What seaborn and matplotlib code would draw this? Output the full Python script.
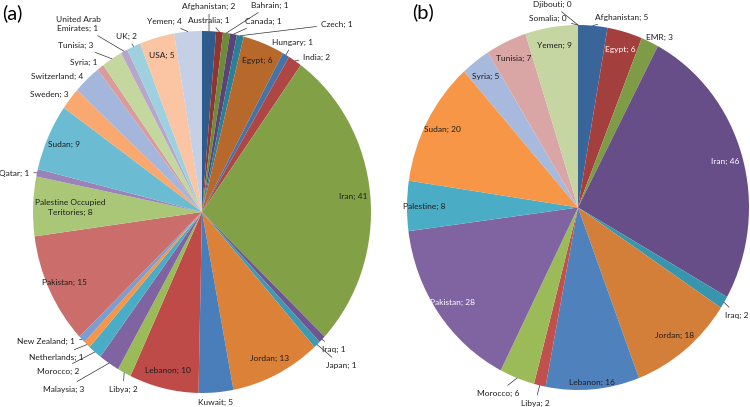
import numpy as np
import matplotlib
matplotlib.use("Agg")
import matplotlib.pyplot as plt
import seaborn as sns

# ---- data (a): publications by country ----
countries_a = ["Afghanistan", "Australia", "Bahrain", "Canada", "Czech", "Egypt",
               "Hungary", "India", "Iran", "Iraq", "Japan", "Jordan",
               "Kuwait", "Lebanon", "Libya", "Malaysia", "Morocco", "Netherlands",
               "New Zealand", "Pakistan", "Palestine Occupied\nTeritories", "Qatar", "Sudan", "Sweden",
               "Switzerland", "Syria", "Tunisia", "United Arab\nEmirates", "UK", "USA",
               "Yemen"]
values_a = [2, 1, 1, 1, 1, 6,
            1, 2, 41, 1, 1, 13,
            5, 10, 2, 3, 2, 1,
            1, 15, 8, 1, 9, 3,
            4, 1, 3, 1, 2, 5,
            4]
colors_a = ["#2F5A8C", "#8E3532", "#6E8B39", "#5A4476", "#2D7F95", "#B7692C",
            "#4573A8", "#AE4744", "#82A147", "#6F5690", "#3E9AB3", "#DB8138",
            "#4A7EBB", "#BE4B48", "#9BBB59", "#8064A2", "#4BACC6", "#F79646",
            "#7B9DD0", "#CB6D6B", "#AAC777", "#9983B7", "#6BBBD2", "#F9A86F",
            "#A4B6DC", "#DA9C9A", "#C4D79E", "#B5A6CA", "#9ED0DF", "#FBC4A2",
            "#C5D0E6"]

# ---- data (b): by country, EMR only ----
countries_b = ["Afghanistan", "Egypt", "EMR", "Iran", "Iraq", "Jordan",
               "Lebanon", "Libya", "Morocco", "Pakistan", "Palestine", "Sudan",
               "Syria", "Tunisia", "Yemen", "Somalia", "Djibouti"]
values_b = [5, 6, 3, 46, 2, 18,
            16, 2, 6, 28, 8, 20,
            5, 7, 9, 0, 0]
colors_b = ["#3A659A", "#A33F3C", "#7E9C45", "#684E89", "#3795AE", "#D37E39",
            "#4F81BD", "#C0504D", "#9BBB59", "#8064A2", "#4BACC6", "#F79646",
            "#A7B9DC", "#D9A6A5", "#C5D6A2", "#B5A6CA", "#9ED0DF"]

# ---- layout (pixels in the 750x407 canvas) ----
W, H = 750, 407
box_a = (33, 31, 371, 393)
box_b = (407, 25, 749, 390)

# labels drawn outside the pie, text centre in pixels
outside_a = {
    "Afghanistan": (209, 6), "Australia": (209, 20), "Bahrain": (270, 5),
    "Canada": (263, 21), "Czech": (337, 24), "Hungary": (293, 42),
    "India": (317, 57), "Iraq": (334, 349), "Japan": (341, 365),
    "Kuwait": (216, 402), "Libya": (123, 389), "Malaysia": (64, 389),
    "Morocco": (58, 371), "Netherlands": (56, 357), "New Zealand": (46, 341),
    "Qatar": (14, 173), "Sweden": (49, 94), "Switzerland": (57, 76),
    "Syria": (84, 62), "Tunisia": (76, 45), "United Arab\nEmirates": (78, 24),
    "UK": (126, 36), "Yemen": (164, 21),
}
outside_b = {
    "Afghanistan": (622, 17), "EMR": (659, 37), "Iraq": (737, 315),
    "Morocco": (498, 393), "Libya": (535, 403), "Somalia": (548, 18),
    "Djibouti": (552, 4),
}
no_leader = ["Sweden", "Switzerland", "Syria", "Kuwait", "EMR", "Morocco_b"]
radius_a = {"Palestine Occupied\nTeritories": 0.78}
radius_b = {"Lebanon": 0.96}
white_b = ["Egypt", "Iran", "Pakistan"]

sns.set_theme(style="white")
plt.rcParams["font.family"] = ["Lato", "DejaVu Sans"]

fig = plt.figure(figsize=(W / 100, H / 100), dpi=100)
fig.patch.set_facecolor("white")

TXT = "#1E1E1E"
FS = 6.0


def draw_pie(box, names, vals, colors, outside, radius, white=()):
    x0, y0, x1, y1 = box
    ax = fig.add_axes([x0 / W, 1 - y1 / H, (x1 - x0) / W, (y1 - y0) / H])
    wedges, _ = ax.pie(vals, colors=colors, startangle=90, counterclock=False,
                       radius=1, wedgeprops=dict(linewidth=0))
    ax.set_aspect("auto")
    ax.set_xlim(-1, 1)
    ax.set_ylim(-1, 1)
    ax.axis("off")

    cx, cy = (x0 + x1) / 2, (y0 + y1) / 2
    rx, ry = (x1 - x0) / 2, (y1 - y0) / 2

    for w, name, v in zip(wedges, names, vals):
        ang = np.deg2rad((w.theta1 + w.theta2) / 2)
        label = f"{name}; {v}"
        if name in outside:
            px, py = outside[name]
            tx, ty = (px - cx) / rx, (cy - py) / ry
            props = None
            if name not in no_leader:
                props = dict(arrowstyle="-", lw=0.5, color="#333333",
                             shrinkA=1, shrinkB=0)
            ax.annotate(label, xy=(np.cos(ang), np.sin(ang)), xytext=(tx, ty),
                        ha="center", va="center", fontsize=FS, color=TXT,
                        annotation_clip=False, arrowprops=props)
        else:
            r = radius.get(name, 0.9)
            col = "white" if name in white else TXT
            ax.text(r * np.cos(ang), r * np.sin(ang), label, ha="center",
                    va="center", fontsize=FS, color=col, linespacing=1.4)
    return ax


draw_pie(box_a, countries_a, values_a, colors_a, outside_a, radius_a)
draw_pie(box_b, countries_b, values_b, colors_b, outside_b, radius_b, white_b)

fig.text(2 / W, 1 - 13 / H, "(a)", fontsize=14.5, color="black", va="center", ha="left")
fig.text(412 / W, 1 - 12 / H, "(b)", fontsize=14.5, color="black", va="center", ha="left")

fig.savefig("out.png", dpi=100, facecolor="white")
